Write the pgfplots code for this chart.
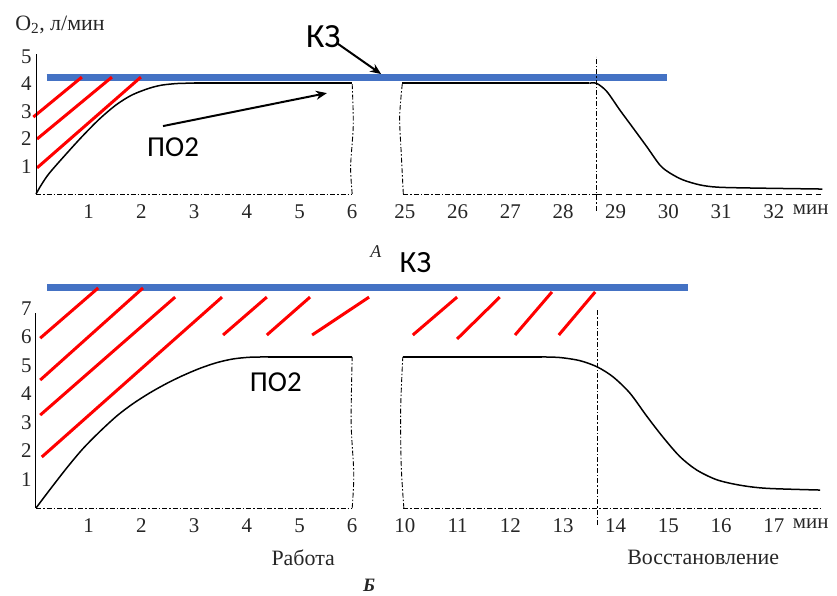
\documentclass[border=0pt]{standalone}
\usepackage{fontspec}
\setmainfont{Liberation Serif}
\newfontfamily\carlito{Carlito}
\usepackage{pgfplots}
\pgfplotsset{compat=1.18}
\usetikzlibrary{arrows.meta}
\definecolor{kzblue}{RGB}{68,114,196}
\definecolor{kzred}{RGB}{255,0,0}

\tikzset{arr/.style={black, line width=2bp, -{Stealth[length=11bp,width=9bp]}}}
\pgfplotsset{panel/.style={
  x=52.7bp, xmin=0, xmax=15, clip=false,
  axis x line*=bottom, axis y line*=left,
  axis line style={draw=none},
  major tick length=0pt,
  tick label style={font=\fontsize{21}{21}\selectfont, text=black!85},
  /pgf/number format/assume math mode=true,
  xtick={1,2,3,4,5,6,7,8,9,10,11,12,13,14,14.7},
  xticklabel style={yshift=-7bp},
  yticklabel style={xshift=-1bp},
  anchor=south west,
},
curve/.style={black, line width=1.5bp, smooth, tension=0.5, no marks},
flat/.style={black, line width=1.5bp, no marks},
box/.style={black, line width=0.9bp, dash pattern=on 5bp off 2bp on 1.5bp off 2bp, no marks},
hatch/.style={kzred, line width=3bp, no marks},
kz/.style={kzblue, line width=7bp, no marks},
}

\begin{document}
\begin{tikzpicture}
\useasboundingbox (0,0) rectangle (837bp,-596bp);

% ---------- Panel A ----------
\begin{axis}[panel, at={(36bp,-194bp)}, y=27.5bp, ymin=0, ymax=5.5,
  ytick={1,2,3,4,5},
  xticklabels={1,2,3,4,5,6,25,26,27,28,29,30,31,32,мин}]
\addplot[kz] coordinates {(0.2,4.25) (11.97,4.25)};
\addplot[hatch] coordinates {(-0.05,2.8) (0.87,4.25)};
\addplot[hatch] coordinates {(0.02,2.0) (1.44,4.25)};
\addplot[hatch] coordinates {(0.02,0.95) (1.99,4.25)};
\addplot[black, line width=1bp, no marks] coordinates {(0,0) (0,5.1)};
\addplot[box] coordinates {(0,0) (6,0)};
\addplot[box] coordinates {(6.97,0) (10.63,0)};
\addplot[black, line width=0.9bp, dash pattern=on 6bp off 4bp, no marks] coordinates {(10.63,0) (14.9,0)};
\addplot[box, smooth] coordinates {(6.0,0) (5.97,1.0) (6.02,2.5) (6.0,4.0)};
\addplot[box, smooth] coordinates {(6.97,0) (6.93,1.5) (6.9,2.8) (6.95,4.0)};
\addplot[box] coordinates {(10.63,-0.6) (10.63,5.0)};
\addplot[curve] coordinates {(0,0) (0.1,0.33) (0.25,0.75) (0.57,1.45) (0.87,2.08) (1.2,2.72) (1.52,3.24) (1.82,3.6) (2.14,3.84) (2.39,3.96) (2.7,4.02) (3.0,4.03)};
\addplot[flat] coordinates {(3.0,4.03) (6.0,4.03)};
\addplot[flat] coordinates {(6.95,4.03) (10.5,4.03)};
\addplot[curve] coordinates {(10.5,4.03) (10.64,4.02) (10.83,3.73) (11.08,3.05) (11.33,2.4) (11.59,1.72) (11.84,1.05) (12.03,0.76) (12.28,0.51) (12.6,0.33) (12.92,0.25) (13.5,0.22) (14.92,0.18)};
\draw[arr] (axis cs:5.7,5.5) -- (axis cs:6.55,4.36);
\draw[arr] (axis cs:2.41,2.47) -- (axis cs:5.52,3.67);
\node[font=\carlito\fontsize{34}{34}\selectfont] at (axis cs:5.45,5.71) {КЗ};
\node[font=\carlito\fontsize{29}{29}\selectfont] at (axis cs:2.6,1.71) {ПО2};
\node[anchor=west, font=\fontsize{22}{22}\selectfont, text=black!85] at (axis cs:-0.46,6.15) {O\textsubscript{2}, л/мин};
\node[font=\itshape\fontsize{18}{18}\selectfont, text=black!85] at (axis cs:6.45,-2.11) {А};
\end{axis}

% ---------- Panel Б ----------
\begin{axis}[panel, at={(36bp,-508bp)}, y=28.5bp, ymin=0, ymax=8,
  ytick={1,2,3,4,5,6,7},
  xticklabels={1,2,3,4,5,6,10,11,12,13,14,15,16,17,мин}]
\addplot[kz] coordinates {(0.21,7.75) (12.37,7.75)};
\addplot[hatch] coordinates {(0.08,5.96) (1.18,7.72)};
\addplot[hatch] coordinates {(0.08,4.49) (2.03,7.72)};
\addplot[hatch] coordinates {(0.08,3.26) (2.64,7.4)};
\addplot[hatch] coordinates {(0.11,1.79) (3.53,7.4)};
\addplot[hatch] coordinates {(3.55,6.07) (4.38,7.4)};
\addplot[hatch] coordinates {(4.38,6.07) (5.2,7.4)};
\addplot[hatch] coordinates {(5.24,6.07) (6.32,7.4)};
\addplot[hatch] coordinates {(7.15,6.07) (7.99,7.4)};
\addplot[hatch] coordinates {(7.99,5.93) (8.8,7.4)};
\addplot[hatch] coordinates {(9.09,6.07) (9.79,7.58)};
\addplot[hatch] coordinates {(9.92,6.07) (10.61,7.58)};
\addplot[black, line width=1bp, no marks] coordinates {(0,0) (0,6.85)};
\addplot[box] coordinates {(0,0) (6,0)};
\addplot[box] coordinates {(6.97,0) (14.9,0)};
\addplot[box, smooth] coordinates {(6.0,0) (6.03,1.2) (5.98,3.0) (6.0,5.3)};
\addplot[box, smooth] coordinates {(6.98,0) (6.93,1.5) (6.92,3.5) (6.96,5.3)};
\addplot[box] coordinates {(10.65,-0.6) (10.65,7.0)};
\addplot[curve] coordinates {(0,0) (0.27,0.66) (0.59,1.42) (0.89,2.08) (1.21,2.68) (1.54,3.24) (1.84,3.66) (2.16,4.04) (2.49,4.38) (2.79,4.65) (3.11,4.9) (3.43,5.1) (3.74,5.23) (4.06,5.29) (4.4,5.3)};
\addplot[flat] coordinates {(4.4,5.3) (6.0,5.3)};
\addplot[flat] coordinates {(6.96,5.3) (9.6,5.3)};
\addplot[curve] coordinates {(9.6,5.3) (9.94,5.28) (10.32,5.17) (10.65,4.95) (10.95,4.6) (11.27,4.03) (11.59,3.22) (11.9,2.48) (12.22,1.8) (12.54,1.33) (12.92,0.99) (13.36,0.8) (13.87,0.69) (14.88,0.63)};
\node[font=\carlito\fontsize{31}{31}\selectfont] at (axis cs:7.2,8.6) {КЗ};
\node[font=\carlito\fontsize{29}{29}\selectfont] at (axis cs:4.55,4.42) {ПО2};
\node[font=\fontsize{22}{22}\selectfont, text=black!85] at (axis cs:5.07,-1.75) {Работа};
\node[font=\fontsize{22}{22}\selectfont, text=black!85] at (axis cs:12.66,-1.75) {Восстановление};
\node[font=\bfseries\itshape\fontsize{19}{19}\selectfont, text=black!85] at (axis cs:6.32,-2.7) {Б};
\end{axis}
\end{tikzpicture}
\end{document}
